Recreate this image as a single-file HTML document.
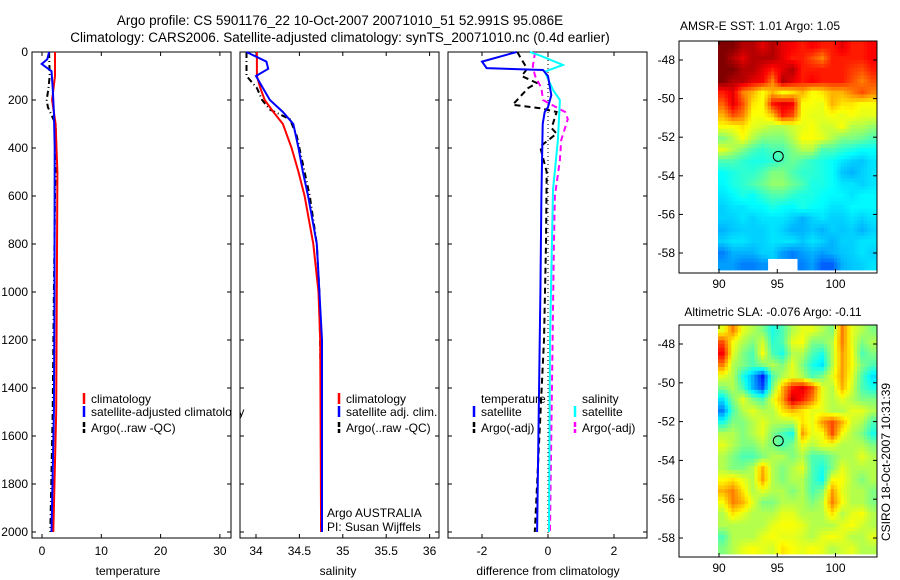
<!DOCTYPE html>
<html><head><meta charset="utf-8"><style>
html,body{margin:0;padding:0;background:#fff;}
svg{display:block;font-family:"Liberation Sans",sans-serif;}
</style></head><body>
<svg id="c" width="900" height="580" viewBox="0 0 900 580" xmlns="http://www.w3.org/2000/svg">
<text x="340" y="25" font-size="13.5" text-anchor="middle">Argo profile: CS 5901176_22 10-Oct-2007 20071010_51 52.991S 95.086E</text>
<text x="340" y="42" font-size="13.5" text-anchor="middle">Climatology: CARS2006. Satellite-adjusted climatology: synTS_20071010.nc (0.4d earlier)</text>
<text x="760" y="30" font-size="12" text-anchor="middle">AMSR-E SST: 1.01 Argo: 1.05</text>
<text x="773" y="316" font-size="12" text-anchor="middle">Altimetric SLA: -0.076 Argo: -0.11</text>
<text transform="translate(890,462) rotate(-90)" font-size="12" text-anchor="middle">CSIRO 18-Oct-2007 10:31:39</text>
</svg>
<script>
// ---------- data ----------
const depthTicks=[0,200,400,600,800,1000,1200,1400,1600,1800,2000];
const tTicks=[0,10,20,30];
const sTicks=[34,34.5,35,35.5,36];
const dTicks=[-2,0,2];
const tClimDepth=[0,100,200,300,500,1000,1500,2000];
const tClimVal=[2.2,2.2,1.7,2.3,2.6,2.5,2.4,1.9];
const tSatDepth=[0,30,50,80,150,250,400,1000,1500,2000];
const tSatVal=[1.2,0.9,-0.05,1.6,1.8,2.0,2.15,2.1,2.0,1.6];
const tArgoDepth=[0,100,150,200,230,300,400,600,1000,1500,2000];
const tArgoVal=[1.2,1.3,1.1,0.8,1.0,2.3,2.4,2.2,2.0,1.8,1.4];
const sClimDepth=[0,100,150,200,250,300,400,500,600,800,1000,1200,2000];
const sClimVal=[34.01,34.01,34.05,34.1,34.2,34.31,34.41,34.49,34.56,34.66,34.72,34.74,34.75];
const sSatDepth=[0,40,70,100,150,200,250,300,400,500,600,800,1000,1200,2000];
const sSatVal=[33.89,34.12,34.14,34.0,34.08,34.16,34.31,34.43,34.49,34.54,34.6,34.7,34.73,34.76,34.76];
const sArgoDepth=[0,100,150,200,240,280,350,500,600,800,1000,1500,2000];
const sArgoVal=[33.89,33.89,34.01,34.07,34.16,34.39,34.47,34.56,34.62,34.7,34.73,34.75,34.75];
const dTSatDepth=[0,40,67,75,100,180,230,250,300,600,1000,2000];
const dTSatVal=[-0.95,-2.0,-1.86,-0.15,0,0.1,0,-0.1,-0.16,-0.2,-0.23,-0.33];
const dSSatDepth=[0,15,54,82,158,200,367,575,783,1200,2000];
const dSSatVal=[-0.55,-0.24,0.45,-0.1,0.15,0.36,0.3,0.15,0.12,0.06,0.03];
const dSArgoDepth=[0,60,100,150,200,242,250,280,367,450,600,800,1200,2000];
const dSArgoVal=[-0.39,-0.46,-0.39,-0.2,-0.15,0.41,0.52,0.6,0.4,0.36,0.21,0.18,0.14,0.06];
const dTArgoDepth=[0,20,70,100,129,150,220,234,250,317,340,394,500,800,1200,2000];
const dTArgoVal=[-0.93,-0.85,-0.63,-0.8,-0.34,-0.6,-1.07,-0.24,0.26,0.11,0.26,-0.24,-0.04,-0.06,-0.12,-0.4];
const lonTicks=[90,95,100];
const latTicks=[-48,-50,-52,-54,-56,-58];
const sstGrid=[
[1,1,.95,.95,.9,.95,.9,.88,.85,.88,.85,.85,.9,.85,.85,.88],
[1,.95,.9,.95,.95,.95,.9,.85,.85,.8,.75,.85,.85,.85,.85,.88],
[1,1,.95,.95,.9,.85,.9,.95,.85,.85,.85,.85,.85,.82,.8,.85],
[1,.95,.95,.9,.88,.75,.95,.9,.85,.88,.85,.85,.85,.8,.75,.8],
[.85,.9,.75,.7,.62,.7,.62,.65,.7,.62,.65,.7,.7,.75,.8,.75],
[.78,.9,.8,.65,.62,.85,.9,.88,.62,.62,.6,.7,.65,.65,.62,.62],
[.7,.8,.75,.62,.62,.68,.85,.8,.62,.6,.6,.62,.6,.62,.6,.6],
[.62,.62,.65,.6,.58,.55,.55,.58,.6,.62,.58,.58,.62,.55,.55,.52],
[.5,.55,.62,.55,.5,.5,.5,.55,.62,.62,.6,.55,.5,.5,.48,.45],
[.6,.55,.5,.45,.42,.45,.45,.5,.55,.55,.45,.45,.42,.4,.38,.38],
[.45,.45,.42,.4,.4,.42,.45,.48,.45,.42,.4,.38,.35,.33,.32,.35],
[.38,.4,.42,.42,.45,.5,.5,.45,.42,.42,.4,.38,.32,.3,.33,.35],
[.37,.4,.42,.45,.48,.52,.52,.48,.45,.4,.4,.38,.35,.35,.33,.35],
[.35,.37,.4,.38,.42,.45,.45,.42,.4,.4,.38,.37,.37,.35,.37,.37],
[.33,.35,.35,.37,.37,.4,.38,.37,.4,.38,.37,.35,.35,.37,.37,.37],
[.33,.33,.35,.33,.35,.35,.35,.33,.3,.33,.35,.33,.33,.35,.33,.35],
[.3,.32,.33,.33,.33,.35,.33,.3,.3,.32,.3,.33,.32,.33,.3,.33],
[.33,.35,.35,.33,.33,.35,.35,.35,.32,.35,.33,.3,.33,.33,.35,.35],
[.25,.3,.3,.3,.33,.33,.28,.25,.28,.3,.28,.3,.32,.33,.35,.33],
[.28,.28,.25,.25,.27,-1,-1,-1,.25,.28,.22,.22,.3,.32,.33,.35]];
const slaGrid=[
[.6,.75,.6,.55,.5,.4,.45,.55,.6,.6,.55,.5,.75,.6,.55,.5],
[.8,.62,.55,.5,.58,.42,.45,.6,.62,.5,.5,.55,.75,.6,.5,.55],
[.88,.6,.5,.45,.62,.45,.4,.55,.55,.45,.4,.55,.72,.62,.45,.5],
[.75,.55,.5,.45,.5,.55,.5,.6,.5,.4,.35,.55,.72,.62,.5,.45],
[.6,.55,.4,.3,.15,.45,.55,.6,.55,.45,.5,.6,.72,.6,.45,.35],
[.5,.55,.45,.3,.2,.5,.7,.85,.9,.8,.6,.55,.7,.58,.45,.4],
[.35,.5,.6,.5,.45,.6,.72,.92,.85,.75,.6,.55,.6,.55,.5,.5],
[.25,.45,.55,.6,.55,.55,.65,.7,.65,.6,.6,.55,.55,.6,.6,.55],
[.4,.5,.5,.55,.6,.55,.55,.55,.65,.6,.72,.8,.7,.58,.55,.45],
[.55,.55,.5,.55,.6,.5,.45,.4,.72,.6,.62,.8,.62,.55,.5,.4],
[.6,.55,.5,.5,.55,.5,.45,.5,.6,.55,.6,.6,.55,.55,.55,.5],
[.55,.5,.45,.45,.5,.55,.55,.5,.55,.45,.45,.5,.55,.55,.6,.55],
[.55,.5,.5,.55,.7,.55,.5,.55,.6,.45,.4,.5,.6,.55,.55,.55],
[.62,.65,.6,.55,.72,.55,.5,.55,.55,.45,.38,.62,.62,.55,.5,.55],
[.7,.75,.65,.55,.6,.55,.55,.5,.55,.45,.5,.72,.6,.55,.55,.5],
[.62,.75,.7,.6,.5,.5,.55,.55,.55,.5,.55,.75,.62,.55,.55,.5],
[.55,.65,.6,.55,.55,.55,.6,.6,.55,.55,.55,.65,.55,.6,.62,.55],
[.55,.55,.55,.55,.55,.6,.62,.62,.6,.55,.55,.55,.6,.62,.58,.55],
[.45,.55,.55,.55,.6,.62,.6,.6,.58,.55,.6,.62,.6,.55,.55,.6],
[.5,.55,.6,.62,.6,.58,.65,.62,.6,.62,.6,.55,.58,.6,.55,.55]];
const argoLon=95.086, argoLat=-52.991;

// ---------- helpers ----------
const svg=document.getElementById('c');
const NS='http://www.w3.org/2000/svg';
function mk(tag,attrs,parent){const e=document.createElementNS(NS,tag);for(const k in attrs)e.setAttribute(k,attrs[k]);(parent||svg).appendChild(e);return e;}
const yD=d=>52+d*0.24;
const panels=[
 {x0:32,x1:231,f:v=>42+v*5.93,ticks:tTicks,name:'temperature'},
 {x0:240,x1:439,f:v=>256+(v-34)*86.8,ticks:sTicks,name:'salinity'},
 {x0:448,x1:647,f:v=>548+v*33,ticks:dTicks,name:'difference'}];
const yTop=52,yBot=538;
panels.forEach((p,i)=>{
  const g=mk('g',{});
  
  
  const r=mk('rect',{x:p.x0,y:yTop,width:p.x1-p.x0,height:yBot-yTop,fill:'#fff',stroke:'#000','stroke-width':1},g);
  
  
  depthTicks.forEach(d=>{
    const y=yD(d);
    mk('line',{x1:p.x0,x2:p.x0+4,y1:y,y2:y,stroke:'#000'},g);
    mk('line',{x1:p.x1-4,x2:p.x1,y1:y,y2:y,stroke:'#000'},g);
    if(i===0){const t=mk('text',{x:p.x0-4,y:y+4,'font-size':12,'text-anchor':'end'},g);t.textContent=d;
      
      }
  });
  p.ticks.forEach(v=>{
    const x=p.f(v);
    mk('line',{x1:x,x2:x,y1:yTop,y2:yTop+4,stroke:'#000'},g);
    mk('line',{x1:x,x2:x,y1:yBot-4,y2:yBot,stroke:'#000'},g);
    const t=mk('text',{x:x,y:555,'font-size':12,'text-anchor':'middle'},g);t.textContent=v;
    
    
  });
});
const xl=[[128,'temperature'],[338,'salinity'],[548,'difference from climatology']];
xl.forEach(([x,s])=>{const t=mk('text',{x:x,y:575,'font-size':12,'text-anchor':'middle'});t.textContent=s;
  
  });
const zl=mk('line',{x1:panels[2].f(0),x2:panels[2].f(0),y1:yTop,y2:yBot,stroke:'#000','stroke-dasharray':'1,3'});



function series(p,dep,val,color,dash,name){
  const pts=dep.map((d,i)=>p.f(val[i]).toFixed(1)+','+yD(d).toFixed(1)).join(' ');
  const e=mk('polyline',{points:pts,fill:'none',stroke:color,'stroke-width':2,'stroke-dasharray':dash||'none'});
  
  
}
series(panels[0],tArgoDepth,tArgoVal,'#000','6,3,1,3','temperature-argo-line');
series(panels[0],tClimDepth,tClimVal,'#f00','','temperature-climatology-line');
series(panels[0],tSatDepth,tSatVal,'#00f','','temperature-satellite-line');
series(panels[1],sArgoDepth,sArgoVal,'#000','6,3,1,3','salinity-argo-line');
series(panels[1],sClimDepth,sClimVal,'#f00','','salinity-climatology-line');
series(panels[1],sSatDepth,sSatVal,'#00f','','salinity-satellite-line');
series(panels[2],dTArgoDepth,dTArgoVal,'#000','6,4','temp-diff-argo-line');
series(panels[2],dSArgoDepth,dSArgoVal,'#f0f','6,4','sal-diff-argo-line');
series(panels[2],dSSatDepth,dSSatVal,'#0ff','','sal-diff-satellite-line');
series(panels[2],dTSatDepth,dTSatVal,'#00f','','temp-diff-satellite-line');

function legend(x,y,color,dash,label,name){
  const g=mk('g',{});
  
  
  mk('line',{x1:x,x2:x,y1:y-10,y2:y+1,stroke:color,'stroke-width':2.5,'stroke-dasharray':dash||'none'},g);
  const t=mk('text',{x:x+7,y:y,'font-size':12},g);t.textContent=label;
}
legend(84,403,'#f00','','climatology','legend-t-climatology');
legend(84,416,'#00f','','satellite-adjusted climatology','legend-t-satellite');
legend(84,432,'#000','5,2','Argo(..raw -QC)','legend-t-argo');
mk('rect',{x:232,y:380,width:7.5,height:60,fill:'#fff'});
mk('line',{x1:231,x2:231,y1:380,y2:440,stroke:'#000'});
mk('line',{x1:240,x2:240,y1:380,y2:440,stroke:'#000'});
legend(339,403,'#f00','','climatology','legend-s-climatology');
legend(339,416,'#00f','','satellite adj. clim.','legend-s-satellite');
legend(339,432,'#000','5,2','Argo(..raw -QC)','legend-s-argo');
let t=mk('text',{x:327,y:517,'font-size':12});t.textContent='Argo AUSTRALIA';


t=mk('text',{x:327,y:531,'font-size':12});t.textContent='PI: Susan Wijffels';


t=mk('text',{x:481,y:403,'font-size':12});t.textContent='temperature';


t=mk('text',{x:582,y:403,'font-size':12});t.textContent='salinity';


legend(474,416,'#00f','','satellite','legend-dt-satellite');
legend(474,432,'#000','5,2','Argo(-adj)','legend-dt-argo');
legend(575,416,'#0ff','','satellite','legend-ds-satellite');
legend(575,432,'#f0f','5,2','Argo(-adj)','legend-ds-argo');

// ---------- maps ----------
function jet(v){
  const c=x=>Math.max(0,Math.min(1,x));
  const r=c(1.5-Math.abs(4*v-3)),g=c(1.5-Math.abs(4*v-2)),b=c(1.5-Math.abs(4*v-1));
  return `rgb(${Math.round(r*255)},${Math.round(g*255)},${Math.round(b*255)})`;
}
function sample(grid,fr,fc){
  const rows=grid.length,cols=grid[0].length;
  const nr=Math.min(rows-1,Math.max(0,Math.round(fr))),nc=Math.min(cols-1,Math.max(0,Math.round(fc)));
  const own=grid[nr][nc];
  if(own<0)return -1;
  const r0=Math.max(0,Math.min(rows-1,Math.floor(fr))),c0=Math.max(0,Math.min(cols-1,Math.floor(fc)));
  const r1=Math.min(rows-1,r0+1),c1=Math.min(cols-1,c0+1);
  const a=Math.max(0,Math.min(1,fr-r0)),b=Math.max(0,Math.min(1,fc-c0));
  const g=(r,c)=>grid[r][c]<0?own:grid[r][c];
  return (1-a)*((1-b)*g(r0,c0)+b*g(r0,c1))+a*((1-b)*g(r1,c0)+b*g(r1,c1));
}
function map(box,grid,name){
  const g=mk('g',{});
  
  
  const lx=lon=>box.x90+(lon-90)*box.sx;
  const ly=lat=>box.y48+(-48-lat)*box.sy;
  const ix0=box.img0,ix1=box.x1,iy0=box.y0,iy1=box.imgB;
  const rows=grid.length,cols=grid[0].length,up=3;
  const R=rows*up,C=cols*up;
  const cw=(ix1-ix0)/C,ch=(iy1-iy0)/R;
  for(let ri=0;ri<R;ri++)for(let ci=0;ci<C;ci++){
    const v=sample(grid,(ri+0.5)/up-0.5,(ci+0.5)/up-0.5);
    if(v<0)continue;
    const c=mk('rect',{x:(ix0+ci*cw).toFixed(2),y:(iy0+ri*ch).toFixed(2),width:(cw+0.4).toFixed(2),height:(ch+0.4).toFixed(2),fill:jet(v)},g);
    
    
  }
  mk('rect',{x:box.x0,y:box.y0,width:box.x1-box.x0,height:box.y1-box.y0,fill:'none',stroke:'#000'},g);
  lonTicks.forEach(l=>{const x=lx(l);
    mk('line',{x1:x,x2:x,y1:box.y0,y2:box.y0+4,stroke:'#000'},g);
    mk('line',{x1:x,x2:x,y1:box.y1-4,y2:box.y1,stroke:'#000'},g);
    const t=mk('text',{x:x,y:box.y1+15,'font-size':12,'text-anchor':'middle'},g);t.textContent=l;
    
    });
  latTicks.forEach(l=>{const y=ly(l);
    mk('line',{x1:box.x0,x2:box.x0+4,y1:y,y2:y,stroke:'#000'},g);
    mk('line',{x1:box.x1-4,x2:box.x1,y1:y,y2:y,stroke:'#000'},g);
    const t=mk('text',{x:box.x0-4,y:y+4,'font-size':12,'text-anchor':'end'},g);t.textContent=l;
    
    });
  const m=mk('circle',{cx:lx(argoLon),cy:ly(argoLat),r:5,fill:'none',stroke:'#000'},g);
  
  
}
map({x0:679,x1:877,y0:41,y1:273,img0:718,imgB:270,x90:719,sx:11.65,y48:60,sy:19.3},sstGrid,'sst-map');
map({x0:679,x1:877,y0:325,y1:557,img0:718,imgB:554,x90:719,sx:11.65,y48:344,sy:19.4},slaGrid,'sla-map');
</script>
</body></html>
